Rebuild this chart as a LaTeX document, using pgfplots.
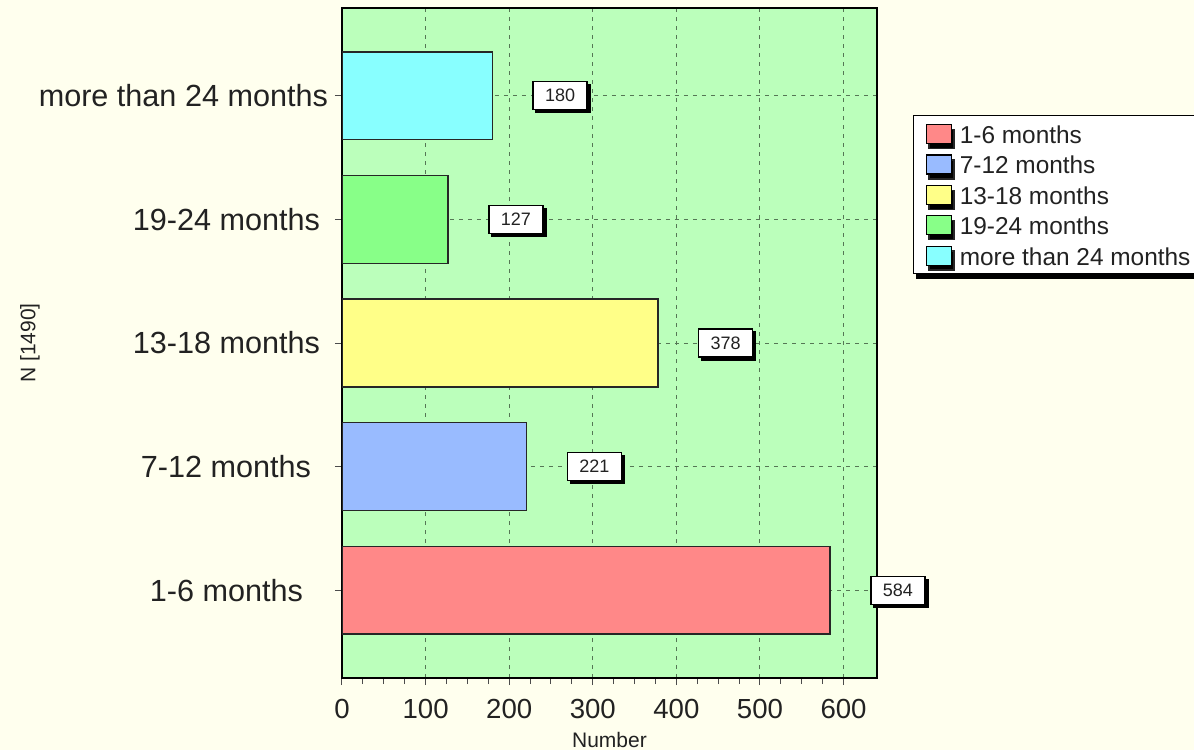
\documentclass[border=0pt]{standalone}
\usepackage{fontspec}
\setmainfont{Liberation Sans}
\usepackage{pgfplots}
\pgfplotsset{compat=1.18}
\usetikzlibrary{shadows}
\definecolor{bgcream}{HTML}{FFFFEE}
\definecolor{plotgreen}{HTML}{BBFFBB}
\definecolor{cred}{HTML}{FF8888}
\definecolor{cblue}{HTML}{99BBFF}
\definecolor{cyellow}{HTML}{FFFF88}
\definecolor{cgreen}{HTML}{88FF88}
\definecolor{ccyan}{HTML}{88FFFF}
\definecolor{gridc}{HTML}{557755}
\definecolor{txt}{HTML}{222222}
\begin{document}
\begin{tikzpicture}
\fill[bgcream] (-171pt,-36pt) rectangle (426pt,339pt);
\begin{axis}[
  at={(0,0)}, anchor=south west,
  scale only axis, width=267.5pt, height=335pt,
  xmin=0, xmax=640, ymin=-0.71, ymax=4.71,
  /pgf/number format/assume math mode=true,
  axis background/.style={fill=plotgreen},
  axis line style={line width=1.2pt, black},
  xtick={0,100,...,600}, minor x tick num=3,
  ytick={0,1,2,3,4},
  yticklabels={1-6 months\hspace*{12.5pt}, 7-12 months\hspace*{8.5pt}, 13-18 months\hspace*{4pt}, 19-24 months\hspace*{4pt}, more than 24 months},
  tick align=outside, xtick pos=bottom, ytick pos=left,
  major tick length=3.5pt, minor tick length=3pt,
  tick style={black!70, line width=0.5pt},
  xmajorgrids, ymajorgrids,
  major grid style={gridc, dash pattern=on 2pt off 2.5pt, line width=0.5pt},
  xticklabel style={font=\fontsize{13.8}{15}\selectfont, text=txt, yshift=-3.5pt},
  yticklabel style={font=\fontsize{15.3}{17}\selectfont, text=txt},
  xlabel={Number}, ylabel={N [1490]},
  every axis x label/.style={at={(rel axis cs:0.5,0)}, yshift=-31pt, anchor=center, font=\fontsize{10.5}{12}\selectfont, text=txt},
  every axis y label/.style={at={(rel axis cs:0,0.5)}, xshift=-156pt, rotate=90, anchor=center, font=\fontsize{10.5}{12}\selectfont, text=txt},
  point meta=x,
  nodes near coords,
  nodes near coords style={anchor=west, xshift=20pt, font=\fontsize{9}{10}\selectfont, text=txt, fill=white, draw=black, line width=0.7pt, inner xsep=6pt, inner ysep=3.8pt, drop shadow={shadow xshift=1.5pt, shadow yshift=-1.5pt, fill=black, opacity=1}},
  legend style={at={(rel axis cs:1.067,0.840)}, anchor=north west, fill=white, draw=black, line width=0.6pt, font=\fontsize{12.2}{14}\selectfont, text=txt, drop shadow={shadow xshift=1.5pt, shadow yshift=-2.5pt, fill=black, opacity=1}, inner xsep=2pt, inner ysep=1.5pt, row sep=0pt, column sep=0pt, nodes={text height=10.3pt, text depth=0.9pt, inner ysep=2pt, inner xsep=1pt}, cells={anchor=west}},
  legend image code/.code={\path (-4pt,0) (15.5pt,0); \draw[#1, draw=black, line width=0.6pt] (0pt,-4.75pt) rectangle (12.5pt,4.75pt);},
]
\addplot[xbar, bar width=0.71, bar shift=0pt, fill=cred, draw=black!85, line width=0.7pt] coordinates {(584,0)};
\addplot[xbar, bar width=0.71, bar shift=0pt, fill=cblue, draw=black!85, line width=0.7pt] coordinates {(221,1)};
\addplot[xbar, bar width=0.71, bar shift=0pt, fill=cyellow, draw=black!85, line width=0.7pt] coordinates {(378,2)};
\addplot[xbar, bar width=0.71, bar shift=0pt, fill=cgreen, draw=black!85, line width=0.7pt] coordinates {(127,3)};
\addplot[xbar, bar width=0.71, bar shift=0pt, fill=ccyan, draw=black!85, line width=0.7pt] coordinates {(180,4)};
\legend{1-6 months, 7-12 months, 13-18 months, 19-24 months, more than 24 months}
\end{axis}
\pgfresetboundingbox
\useasboundingbox (-171pt,-36pt) rectangle (426pt,339pt);
\end{tikzpicture}
\end{document}
